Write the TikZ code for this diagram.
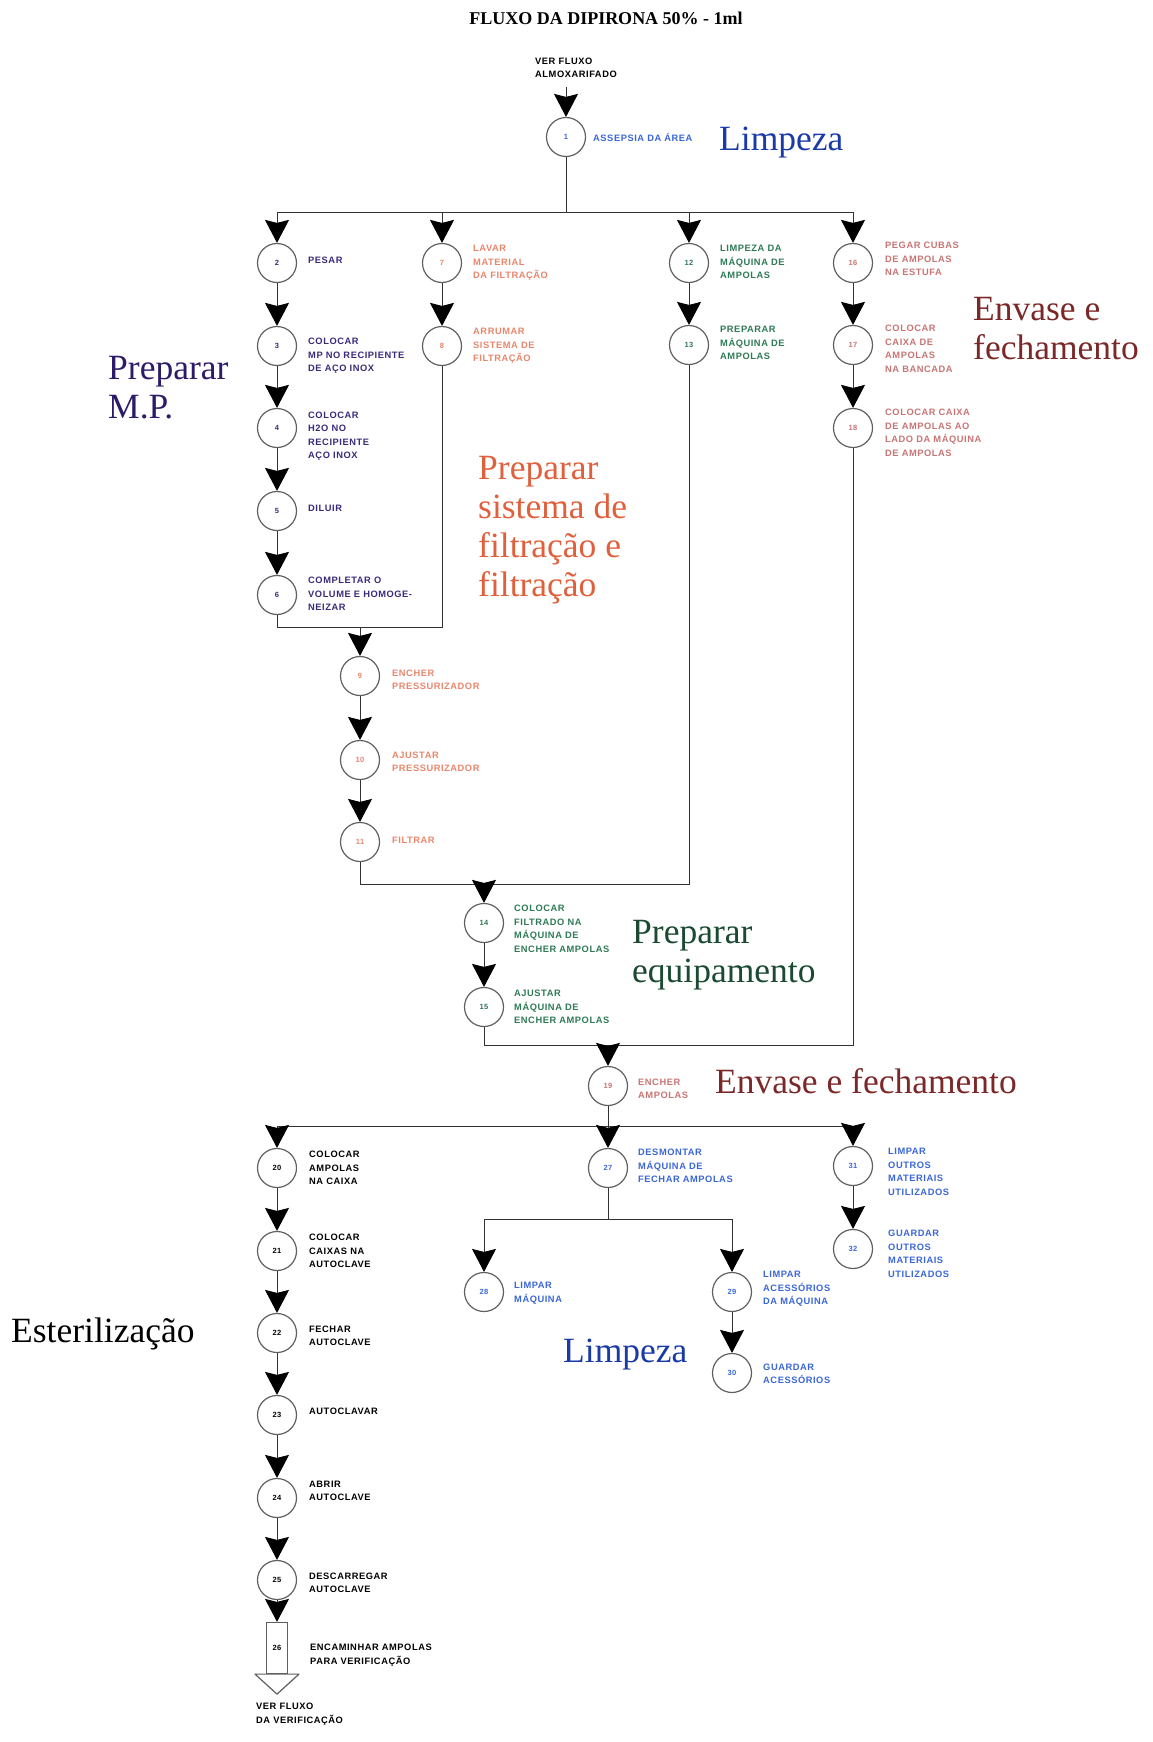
\documentclass[tikz,border=0pt]{standalone}
\usepackage{fontspec}
\setmainfont{Liberation Serif}
\newfontfamily\labelfont[LetterSpace=6]{Liberation Sans}
\usetikzlibrary{arrows.meta,calc}

\definecolor{mpcol}{HTML}{3B2A7A}
\definecolor{mpbig}{HTML}{2E1A6A}
\definecolor{filcol}{HTML}{E8866C}
\definecolor{filbig}{HTML}{E0603C}
\definecolor{eqcol}{HTML}{2E7A55}
\definecolor{eqbig}{HTML}{1A4A32}
\definecolor{envcol}{HTML}{C87474}
\definecolor{envbig}{HTML}{7A2828}
\definecolor{limcol}{HTML}{3A66D6}
\definecolor{limbig}{HTML}{1A3AA8}
\definecolor{circgray}{HTML}{606060}
\definecolor{linegray}{HTML}{333333}

\tikzset{
  proc/.style={circle, draw=circgray, fill=white, line width=1.2pt, minimum size=39pt,
    inner sep=0pt, font=\labelfont\bfseries\fontsize{7.5}{8}\selectfont},
  lbl/.style={anchor=west, inner sep=0pt, align=left,
    font=\labelfont\bfseries\fontsize{9.3}{13.5}\selectfont},
  % multi-line headings: the base anchor sits on the last line's baseline
  big/.style={anchor=base west, inner sep=0pt, align=left,
    font=\fontsize{35.5}{39}\selectfont},
  conn/.style={draw=linegray, line width=0.9pt},
  flow/.style={conn, -{Stealth[length=23pt, width=24pt, inset=3pt, black]}},
}

\begin{document}
\begin{tikzpicture}[x=1pt, y=-1pt]
\useasboundingbox (0,0) rectangle (1153,1742);

% title
\node[font=\bfseries\fontsize{18}{20}\selectfont, inner sep=0pt] (title) at (606,18) {FLUXO DA DIPIRONA 50\% - 1ml};

% entry
\node[lbl, anchor=west] (entry) at (535,68) {VER FLUXO\\ALMOXARIFADO};
\coordinate (start) at (566,87);

% ---- process circles ----
\node[proc, text=limcol] (n1) at (566,137) {1};

\node[proc, text=mpcol] (n2) at (277,263) {2};
\node[proc, text=mpcol] (n3) at (277,346) {3};
\node[proc, text=mpcol] (n4) at (277,428) {4};
\node[proc, text=mpcol] (n5) at (277,511) {5};
\node[proc, text=mpcol] (n6) at (277,595) {6};

\node[proc, text=filcol] (n7) at (442,263) {7};
\node[proc, text=filcol] (n8) at (442,346) {8};
\node[proc, text=filcol] (n9) at (360,676) {9};
\node[proc, text=filcol] (n10) at (360,760) {10};
\node[proc, text=filcol] (n11) at (360,842) {11};

\node[proc, text=eqcol] (n12) at (689,263) {12};
\node[proc, text=eqcol] (n13) at (689,345) {13};
\node[proc, text=eqcol] (n14) at (484,923) {14};
\node[proc, text=eqcol] (n15) at (484,1007) {15};

\node[proc, text=envcol] (n16) at (853,263) {16};
\node[proc, text=envcol] (n17) at (853,345) {17};
\node[proc, text=envcol] (n18) at (853,428) {18};
\node[proc, text=envcol] (n19) at (608,1086) {19};

\node[proc] (n20) at (277,1168) {20};
\node[proc] (n21) at (277,1251) {21};
\node[proc] (n22) at (277,1333) {22};
\node[proc] (n23) at (277,1415) {23};
\node[proc] (n24) at (277,1498) {24};
\node[proc] (n25) at (277,1580) {25};
\node[draw=circgray, fill=white, line width=1.2pt, minimum width=21pt, minimum height=51pt,
  inner sep=0pt, font=\labelfont\bfseries\fontsize{7.5}{8}\selectfont] (n26) at (277,1648) {26};
\draw[draw=circgray, fill=white, line width=1.2pt, line join=round]
  ($(n26.south)+(-22,0)$) -- ($(n26.south)+(22,0)$) -- ($(n26.south)+(0,20)$) -- cycle;

\node[proc, text=limcol] (n27) at (608,1168) {27};
\node[proc, text=limcol] (n28) at (484,1292) {28};
\node[proc, text=limcol] (n29) at (732,1292) {29};
\node[proc, text=limcol] (n30) at (732,1373) {30};
\node[proc, text=limcol] (n31) at (853,1166) {31};
\node[proc, text=limcol] (n32) at (853,1249) {32};

% ---- step labels ----
\node[lbl, text=limcol] (t1) at (593,137) {ASSEPSIA DA ÁREA};

\node[lbl, text=mpcol] (t2) at (308,260) {PESAR};
\node[lbl, text=mpcol] (t3) at (308,356) {COLOCAR\\MP NO RECIPIENTE\\DE AÇO INOX};
\node[lbl, text=mpcol] (t4) at (308,436) {COLOCAR\\H2O NO\\RECIPIENTE\\AÇO INOX};
\node[lbl, text=mpcol] (t5) at (308,508) {DILUIR};
\node[lbl, text=mpcol] (t6) at (308,594) {COMPLETAR O\\VOLUME E HOMOGE-\\NEIZAR};

\node[lbl, text=filcol] (t7) at (473,263) {LAVAR\\MATERIAL\\DA FILTRAÇÃO};
\node[lbl, text=filcol] (t8) at (473,346) {ARRUMAR\\SISTEMA DE\\FILTRAÇÃO};
\node[lbl, text=filcol] (t9) at (392,680) {ENCHER\\PRESSURIZADOR};
\node[lbl, text=filcol] (t10) at (392,762) {AJUSTAR\\PRESSURIZADOR};
\node[lbl, text=filcol] (t11) at (392,840) {FILTRAR};

\node[lbl, text=eqcol] (t12) at (720,262) {LIMPEZA DA\\MÁQUINA DE\\AMPOLAS};
\node[lbl, text=eqcol] (t13) at (720,343) {PREPARAR\\MÁQUINA DE\\AMPOLAS};
\node[lbl, text=eqcol] (t14) at (514,929) {COLOCAR\\FILTRADO NA\\MÁQUINA DE\\ENCHER AMPOLAS};
\node[lbl, text=eqcol] (t15) at (514,1007) {AJUSTAR\\MÁQUINA DE\\ENCHER AMPOLAS};

\node[lbl, text=envcol] (t16) at (885,259) {PEGAR CUBAS\\DE AMPOLAS\\NA ESTUFA};
\node[lbl, text=envcol] (t17) at (885,349) {COLOCAR\\CAIXA DE\\AMPOLAS\\NA BANCADA};
\node[lbl, text=envcol] (t18) at (885,433) {COLOCAR CAIXA\\DE AMPOLAS AO\\LADO DA MÁQUINA\\DE AMPOLAS};
\node[lbl, text=envcol] (t19) at (638,1089) {ENCHER\\AMPOLAS};

\node[lbl] (t20) at (309,1168) {COLOCAR\\AMPOLAS\\NA CAIXA};
\node[lbl] (t21) at (309,1251) {COLOCAR\\CAIXAS NA\\AUTOCLAVE};
\node[lbl] (t22) at (309,1336) {FECHAR\\AUTOCLAVE};
\node[lbl] (t23) at (309,1411) {AUTOCLAVAR};
\node[lbl] (t24) at (309,1491) {ABRIR\\AUTOCLAVE};
\node[lbl] (t25) at (309,1583) {DESCARREGAR\\AUTOCLAVE};
\node[lbl] (t26) at (310,1655) {ENCAMINHAR AMPOLAS\\PARA VERIFICAÇÃO};
\node[lbl] (exit) at (256,1714) {VER FLUXO\\DA VERIFICAÇÃO};

\node[lbl, text=limcol] (t27) at (638,1166) {DESMONTAR\\MÁQUINA DE\\FECHAR AMPOLAS};
\node[lbl, text=limcol] (t28) at (514,1293) {LIMPAR\\MÁQUINA};
\node[lbl, text=limcol] (t29) at (763,1289) {LIMPAR\\ACESSÓRIOS\\DA MÁQUINA};
\node[lbl, text=limcol] (t30) at (763,1374) {GUARDAR\\ACESSÓRIOS};
\node[lbl, text=limcol] (t31) at (888,1172) {LIMPAR\\OUTROS\\MATERIAIS\\UTILIZADOS};
\node[lbl, text=limcol] (t32) at (888,1254) {GUARDAR\\OUTROS\\MATERIAIS\\UTILIZADOS};

% ---- stage headings (positions are last-line baselines) ----
\node[big, text=limbig] (hLimpA) at (719,150) {Limpeza};
\node[big, text=mpbig] (hMP) at (108,418) {Preparar\\M.P.};
\node[big, text=filbig] (hFil) at (478,596) {Preparar\\sistema de\\filtração e\\filtração};
\node[big, text=envbig] (hEnvA) at (973,359) {Envase e\\fechamento};
\node[big, text=eqbig] (hEq) at (632,982) {Preparar\\equipamento};
\node[big, text=envbig] (hEnvB) at (715,1093) {Envase e fechamento};
\node[big] (hEst) at (11,1342) {Esterilização};
\node[big, text=limbig] (hLimpB) at (563,1362) {Limpeza};

% ---- junction points ----
\coordinate (b1a) at (277,212);
\coordinate (b1b) at (442,212);
\coordinate (b1m) at (566,212);
\coordinate (b1c) at (689,212);
\coordinate (b1d) at (853,212);

\coordinate (m1a) at (277,627);
\coordinate (m1m) at (360,627);
\coordinate (m1b) at (442,627);

\coordinate (m2a) at (360,884);
\coordinate (m2m) at (484,884);
\coordinate (m2b) at (689,884);

\coordinate (m3a) at (484,1045);
\coordinate (m3m) at (608,1045);
\coordinate (m3b) at (853,1045);

\coordinate (b2a) at (277,1126);
\coordinate (b2m) at (608,1126);
\coordinate (b2d) at (853,1126);

\coordinate (b3a) at (484,1219);
\coordinate (b3m) at (608,1219);
\coordinate (b3b) at (732,1219);

% ---- connectors ----
\draw[flow] (start) -- (n1);
\draw[conn] (n1) -- (b1m);
\draw[conn] (b1a) -- (b1d);
\draw[flow] (b1a) -- (n2);
\draw[flow] (b1b) -- (n7);
\draw[flow] (b1c) -- (n12);
\draw[flow] (b1d) -- (n16);

\draw[flow] (n2) -- (n3);
\draw[flow] (n3) -- (n4);
\draw[flow] (n4) -- (n5);
\draw[flow] (n5) -- (n6);
\draw[flow] (n7) -- (n8);
\draw[flow] (n12) -- (n13);
\draw[flow] (n16) -- (n17);
\draw[flow] (n17) -- (n18);

\draw[conn] (n6) -- (m1a) -- (m1b) -- (n8);
\draw[flow] (m1m) -- (n9);
\draw[flow] (n9) -- (n10);
\draw[flow] (n10) -- (n11);

\draw[conn] (n11) -- (m2a) -- (m2b) -- (n13);
\draw[flow] (m2m) -- (n14);
\draw[flow] (n14) -- (n15);

\draw[conn] (n15) -- (m3a) -- (m3b) -- (n18);
\draw[flow] (m3m) -- (n19);

\draw[conn] (n19) -- (b2m);
\draw[conn] (b2a) -- (b2d);
\draw[flow] (b2a) -- (n20);
\draw[flow] (b2m) -- (n27);
\draw[flow] (b2d) -- (n31);

\draw[flow] (n20) -- (n21);
\draw[flow] (n21) -- (n22);
\draw[flow] (n22) -- (n23);
\draw[flow] (n23) -- (n24);
\draw[flow] (n24) -- (n25);
\draw[flow] (n25) -- (n26);

\draw[conn] (n27) -- (b3m);
\draw[conn] (b3a) -- (b3b);
\draw[flow] (b3a) -- (n28);
\draw[flow] (b3b) -- (n29);
\draw[flow] (n29) -- (n30);
\draw[flow] (n31) -- (n32);
\end{tikzpicture}
\end{document}
